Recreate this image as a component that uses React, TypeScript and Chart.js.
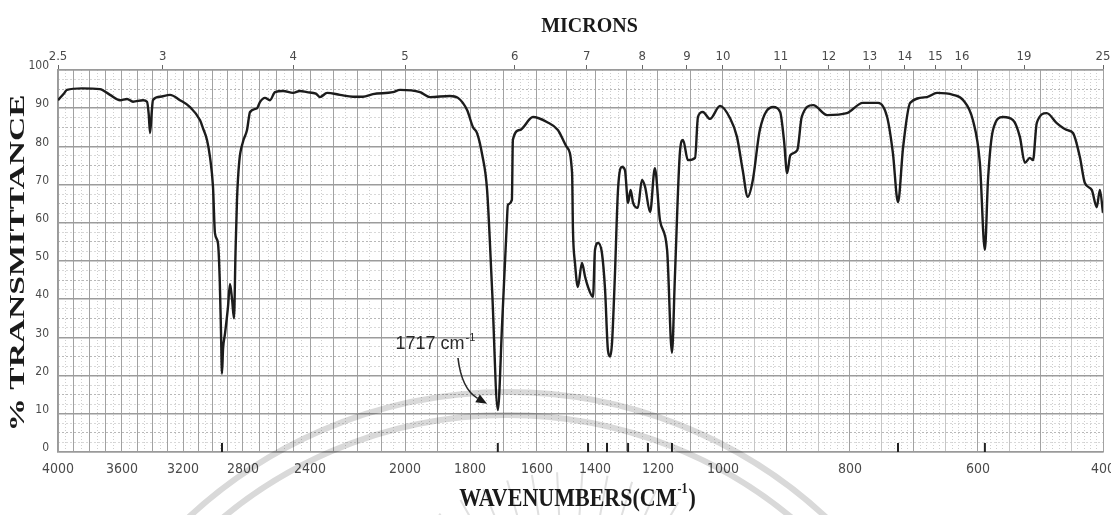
import React, { useEffect, useRef } from 'react';
import { Chart, registerables, LinearScale } from 'chart.js';

Chart.register(...registerables);

// ---- Spectrum data (wavenumber in cm-1, % transmittance) ----
const WAVENUMBERS = [
  4000, 3960, 3944, 3850, 3738, 3675, 3612, 3567, 3528, 3462, 3436, 3425, 3416, 3405, 3397,
  3351, 3285, 3220, 3153, 3087, 3067, 3040, 3020, 3000, 2987, 2967, 2955, 2947, 2940, 2933,
  2920, 2900, 2887, 2873, 2860, 2850, 2840, 2825, 2800, 2776, 2758, 2716, 2699, 2669, 2639,
  2609, 2561, 2501, 2460, 2418, 2375, 2358, 2328, 2274, 2219, 2177, 2135, 2051, 2021, 1954,
  1923, 1862, 1837, 1809, 1791, 1779, 1764, 1749, 1734, 1717, 1704, 1690, 1687, 1675, 1672,
  1651, 1612, 1566, 1528, 1497, 1479, 1476, 1469, 1459, 1445, 1434, 1424, 1407, 1400, 1390,
  1378, 1368, 1359, 1352, 1346, 1337, 1327, 1314, 1305, 1295, 1287, 1279, 1264, 1251, 1241,
  1225, 1210, 1194, 1172, 1157, 1148, 1132, 1123, 1108, 1086, 1077, 1062, 1040, 1009, 989,
  978, 969, 961, 953, 942, 921, 910, 904, 899, 894, 883, 876, 858, 836, 805,
  780, 756, 742, 733, 725, 717, 706, 680, 664, 639, 623, 608, 597, 589, 584,
  576, 560, 544, 533, 525, 517, 512, 506, 490, 474, 458, 448, 437, 429, 418,
  410, 405, 400,
];
const TRANSMITTANCE = [
  92.1, 94.0, 94.8, 95.2, 95.0, 93.5, 92.1, 92.4, 91.7, 92.1, 91.7, 88.5, 83.5, 89.0, 92.1,
  93.0, 93.5, 92.1, 90.3, 86.9, 84.8, 81.7, 77.2, 69.4, 57.3, 54.7, 45.0, 32.0, 20.5, 27.0,
  31.0, 38.0, 44.0, 40.0, 35.0, 52.0, 66.0, 76.0, 81.2, 84.3, 89.0, 90.0, 91.6, 92.7, 92.1,
  94.2, 94.5, 94.0, 94.5, 94.2, 93.8, 92.9, 94.0, 93.5, 93.0, 93.0, 93.7, 94.2, 94.8, 94.2,
  92.9, 93.2, 92.7, 89.5, 85.0, 83.5, 78.0, 68.6, 42.4, 11.0, 33.8, 60.0, 64.7, 66.0, 81.7,
  84.3, 87.7, 86.4, 84.3, 79.8, 73.0, 58.1, 49.5, 43.2, 49.5, 45.8, 43.2, 40.6, 52.9, 54.7,
  52.1, 42.4, 26.7, 25.0, 28.5, 45.8, 68.6, 74.6, 73.8, 65.2, 68.6, 65.2, 63.9, 71.2, 69.4,
  62.8, 74.3, 60.7, 52.9, 26.0, 45.8, 79.0, 81.7, 76.4, 77.0, 87.7, 89.0, 87.2, 90.6, 87.4,
  82.5, 73.8, 66.8, 71.2, 84.3, 90.3, 89.0, 81.7, 73.0, 77.7, 79.0, 87.7, 90.8, 88.2, 88.7,
  91.4, 91.4, 87.7, 78.3, 65.4, 79.8, 91.4, 92.9, 94.0, 93.5, 92.1, 86.9, 75.7, 52.9, 71.2,
  84.3, 87.7, 86.9, 82.5, 75.7, 77.0, 76.4, 86.1, 88.7, 86.1, 84.3, 83.5, 77.2, 70.4, 68.6,
  64.1, 68.6, 62.6,
];

// ---- Axis labels ----
const WAVENUMBER_LABELS = [4000, 3600, 3200, 2800, 2400, 2000, 1800, 1600, 1400, 1200, 1000, 800, 600, 400];
const MICRON_VALUES = [2.5, 3, 4, 5, 6, 7, 8, 9, 10, 11, 12, 13, 14, 15, 16, 19, 25];
const MICRON_LABELS = ['2.5', '3', '4', '5', '6', '7', '8', '9', '10', '11', '12', '13', '14', '15', '16', '19', '25'];
const TRANSMITTANCE_TICKS = [0, 10, 20, 30, 40, 50, 60, 70, 80, 90, 100];
const PEAK_MARKS = [2940, 1717, 1424, 1362, 1295, 1232, 1157, 725, 589];
const ANNOTATION_PEAK = '1717';

// ---- Chart paper: non-uniform wavenumber scale (knot -> fraction of width) ----
const PAPER_KNOTS = [4000, 3600, 3200, 2800, 2400, 2000, 1800, 1600, 1400, 1200, 1000, 800, 600, 400];
const PAPER_FRACS = [0, 0.06124, 0.11962, 0.17703, 0.24115, 0.33206, 0.39426, 0.45837, 0.51388, 0.57416, 0.63636, 0.75789, 0.88038, 1];

function wnToFrac(v: number): number {
  const n = PAPER_KNOTS.length;
  for (let i = 0; i < n - 1; i++) {
    const a = PAPER_KNOTS[i], b = PAPER_KNOTS[i + 1];
    if ((v <= a && v >= b) || (i === 0 && v > a) || (i === n - 2 && v < b)) {
      return PAPER_FRACS[i] + ((a - v) / (a - b)) * (PAPER_FRACS[i + 1] - PAPER_FRACS[i]);
    }
  }
  return 0;
}
function fracToWn(f: number): number {
  const n = PAPER_FRACS.length;
  for (let i = 0; i < n - 1; i++) {
    const a = PAPER_FRACS[i], b = PAPER_FRACS[i + 1];
    if ((f >= a && f <= b) || (i === 0 && f < a) || (i === n - 2 && f > b)) {
      return PAPER_KNOTS[i] + ((f - a) / (b - a)) * (PAPER_KNOTS[i + 1] - PAPER_KNOTS[i]);
    }
  }
  return PAPER_KNOTS[0];
}

class PaperScale extends LinearScale {
  static id = 'paper';
  static defaults = { ticks: { callback: (v: any) => String(v) } };
  getPixelForValue(value: any) {
    if (value === null || value === undefined || isNaN(value)) return NaN;
    return this.getPixelForDecimal(wnToFrac(Number(value)));
  }
  getValueForPixel(pixel: number) {
    return fracToWn(this.getDecimalForPixel(pixel));
  }
}
Chart.register(PaperScale as any);

// grid positions of the chart paper
const X_GRID: number[] = [];
for (let w = 4000; w >= 400; w -= 50) {
  if (w % 100 === 0 || w < 1000) X_GRID.push(w);
}
const X_MINOR: number[] = [];
for (let w = 4000; w > 2000; w -= 50) if (w % 100 !== 0) X_MINOR.push(w);
for (let w = 2000; w > 1000; w -= 25) if (w % 100 !== 0) X_MINOR.push(w);
for (let w = 1000; w > 400; w -= 10) if (w % 50 !== 0) X_MINOR.push(w);
const Y_MINOR: number[] = [];
for (let t = 0; t <= 100; t += 2.5) if (t % 10 !== 0) Y_MINOR.push(t);

const SERIF = '"Liberation Serif", "Times New Roman", serif';
const NARROW = '"Liberation Sans Narrow", "DejaVu Sans Condensed", "Liberation Sans", sans-serif';

const paperPlugin = {
  id: 'paperDecor',
  afterDatasetsDraw(chart: any) {
    const { ctx, chartArea } = chart;
    const xs = chart.scales.x, ys = chart.scales.y;
    ctx.save();
    // peak marks along the bottom edge
    ctx.strokeStyle = '#222';
    ctx.lineWidth = 2;
    PEAK_MARKS.forEach((wn) => {
      const px = xs.getPixelForValue(wn);
      ctx.beginPath();
      ctx.moveTo(px, chartArea.bottom);
      ctx.lineTo(px, chartArea.bottom - 9);
      ctx.stroke();
    });
    // annotation text
    const tx = xs.getPixelForValue(2040);
    const ty = ys.getPixelForValue(27);
    ctx.fillStyle = '#2a2a2a';
    ctx.textBaseline = 'alphabetic';
    ctx.textAlign = 'left';
    ctx.font = '18px "Liberation Sans", Arial, sans-serif';
    const main = ANNOTATION_PEAK + ' cm';
    ctx.fillText(main, tx, ty);
    const mw = ctx.measureText(main).width;
    ctx.font = '11px "Liberation Sans", Arial, sans-serif';
    ctx.fillText('-1', tx + mw + 1, ty - 8);
    // arrow
    const sx = xs.getPixelForValue(1837), sy = ys.getPixelForValue(24.6);
    const cx = xs.getPixelForValue(1826), cy = ys.getPixelForValue(16.5);
    const ex = xs.getPixelForValue(1749), ey = ys.getPixelForValue(12.6);
    let dx = ex - cx, dy = ey - cy;
    const len = Math.hypot(dx, dy);
    dx /= len; dy /= len;
    const head = 11, half = 4.5;
    const bx = ex - dx * head, by = ey - dy * head;
    ctx.strokeStyle = '#2a2a2a';
    ctx.lineWidth = 1.6;
    ctx.beginPath();
    ctx.moveTo(sx, sy);
    ctx.quadraticCurveTo(cx, cy, bx, by);
    ctx.stroke();
    ctx.beginPath();
    ctx.moveTo(ex, ey);
    ctx.lineTo(bx - dy * half, by + dx * half);
    ctx.lineTo(bx + dy * half, by - dx * half);
    ctx.closePath();
    ctx.fillStyle = '#1a1a1a';
    ctx.fill();
    ctx.restore();
  },
  afterDraw(chart: any) {
    const { ctx, chartArea } = chart;
    const midX = (chartArea.left + chartArea.right) / 2;
    const midY = (chartArea.top + chartArea.bottom) / 2;
    ctx.save();
    ctx.fillStyle = '#1a1a1a';
    // top title
    ctx.font = 'bold 20px ' + SERIF;
    ctx.textAlign = 'center';
    ctx.textBaseline = 'middle';
    ctx.fillText('MICRONS', midX + 9, 27);
    // bottom title
    ctx.textAlign = 'left';
    ctx.textBaseline = 'alphabetic';
    const mainT = 'WAVENUMBERS(CM';
    ctx.font = 'bold 22px ' + SERIF;
    const w1 = ctx.measureText(mainT).width;
    const w3 = ctx.measureText(')').width;
    ctx.font = 'bold 12px ' + SERIF;
    const w2 = ctx.measureText('-1').width;
    const startX = midX - 3 - (w1 + w2 + w3 + 2) / 2;
    ctx.save();
    ctx.translate(0, 506);
    ctx.scale(1, 1.15);
    ctx.font = 'bold 22px ' + SERIF;
    ctx.fillText(mainT, startX, 0);
    ctx.font = 'bold 12px ' + SERIF;
    ctx.fillText('-1', startX + w1 + 1, -11);
    ctx.font = 'bold 22px ' + SERIF;
    ctx.fillText(')', startX + w1 + w2 + 2, 0);
    ctx.restore();
    // left title (rotated, stretched along the text)
    ctx.save();
    ctx.translate(18, midY + 2);
    ctx.rotate(-Math.PI / 2);
    ctx.font = 'bold 22px ' + SERIF;
    ctx.textAlign = 'center';
    ctx.textBaseline = 'middle';
    const yt = '% TRANSMITTANCE';
    const yw = ctx.measureText(yt).width;
    ctx.scale(337 / yw, 1);
    ctx.fillText(yt, 0, 0);
    ctx.restore();
    // faint watermark arcs and rays
    ctx.globalCompositeOperation = 'multiply';
    ctx.strokeStyle = '#d9d9d9';
    ctx.lineWidth = 6;
    const wx = chartArea.left + (chartArea.right - chartArea.left) * 0.43;
    ctx.beginPath();
    ctx.arc(wx, 860, 468, Math.PI * 1.12, Math.PI * 1.88);
    ctx.stroke();
    ctx.beginPath();
    ctx.arc(wx, 860, 445, Math.PI * 1.12, Math.PI * 1.88);
    ctx.stroke();
    ctx.lineWidth = 2;
    ctx.strokeStyle = '#e0e0e0';
    const rcx = wx + 60, rcy = 690;
    for (let i = 0; i < 12; i++) {
      const ang = Math.PI * (1.3 + i * 0.037);
      const r1 = 170, r2 = 218;
      ctx.beginPath();
      ctx.moveTo(rcx + Math.cos(ang) * r1, rcy + Math.sin(ang) * r1);
      ctx.lineTo(rcx + Math.cos(ang) * r2, rcy + Math.sin(ang) * r2);
      ctx.stroke();
    }
    ctx.restore();
  },
};

export default function App() {
  const canvasRef = useRef<HTMLCanvasElement>(null);

  useEffect(() => {
    const canvas = canvasRef.current;
    if (!canvas) return;
    const points = WAVENUMBERS.map((w, i) => ({ x: w, y: TRANSMITTANCE[i] }));
    const chart = new Chart(canvas, {
      type: 'line',
      data: {
        datasets: [
          {
            label: 'Transmittance',
            data: points,
            borderColor: '#1c1c1c',
            borderWidth: 2.4,
            pointRadius: 0,
            fill: false,
            cubicInterpolationMode: 'monotone',
            xAxisID: 'x',
            yAxisID: 'y',
          },
        ],
      },
      options: {
        responsive: false,
        animation: false,
        devicePixelRatio: 1,
        layout: { padding: { left: 0, right: 8, top: 0, bottom: 0 } },
        plugins: { legend: { display: false }, tooltip: { enabled: false }, title: { display: false } },
        scales: {
          x: {
            type: 'paper' as any,
            position: 'bottom',
            min: 400,
            max: 4000,
            afterBuildTicks: (s: any) => { s.ticks = X_GRID.map((v) => ({ value: v })); },
            afterFit: (s: any) => { s.height = 63; s.paddingLeft = 0; s.paddingRight = 0; },
            ticks: {
              autoSkip: false,
              maxRotation: 0,
              minRotation: 0,
              padding: 9,
              color: '#4a4a4a',
              font: { family: NARROW, size: 14 },
              callback: (v: any) => (WAVENUMBER_LABELS.includes(Number(v)) ? String(v) : ''),
            },
            grid: {
              drawTicks: false,
              color: (c: any) => {
                const v = c.tick ? c.tick.value : 0;
                return v % 100 === 0 ? '#a2a2a2' : '#c6c6c6';
              },
              lineWidth: 1,
            },
            border: { display: true, color: '#9a9a9a', width: 1.5 },
          },
          xMinor: {
            type: 'paper' as any,
            position: 'bottom',
            min: 400,
            max: 4000,
            afterBuildTicks: (s: any) => { s.ticks = X_MINOR.map((v) => ({ value: v })); },
            afterFit: (s: any) => { s.height = 0; s.paddingLeft = 0; s.paddingRight = 0; },
            ticks: { display: false, autoSkip: false, maxRotation: 0 },
            grid: { drawTicks: false, color: '#cfcfcf', lineWidth: 1, z: -2 },
            border: { display: false, dash: [1, 2] },
          },
          xTop: {
            type: 'paper' as any,
            position: 'top',
            min: 400,
            max: 4000,
            afterBuildTicks: (s: any) => { s.ticks = MICRON_VALUES.map((m) => ({ value: 10000 / m })); },
            afterFit: (s: any) => { s.height = 70; s.paddingLeft = 0; s.paddingRight = 0; },
            ticks: {
              autoSkip: false,
              maxRotation: 0,
              minRotation: 0,
              padding: 1,
              color: '#4a4a4a',
              font: { family: NARROW, size: 13 },
              callback: (_v: any, i: number) => MICRON_LABELS[i],
            },
            grid: { drawOnChartArea: false, drawTicks: true, tickLength: 5, color: '#666', lineWidth: 1 },
            border: { display: true, color: '#9a9a9a', width: 1.5 },
          },
          y: {
            type: 'linear',
            position: 'left',
            min: 0,
            max: 100,
            afterBuildTicks: (s: any) => { s.ticks = TRANSMITTANCE_TICKS.map((v) => ({ value: v })); },
            afterFit: (s: any) => { s.width = 58; s.paddingTop = 0; s.paddingBottom = 0; },
            ticks: {
              padding: 9,
              labelOffset: -4,
              color: '#4a4a4a',
              font: { family: NARROW, size: 12 },
              callback: (v: any) => String(v),
            },
            grid: { drawTicks: false, color: '#9c9c9c', lineWidth: 1.5 },
            border: { display: true, color: '#9a9a9a', width: 1.5 },
          },
          yMinor: {
            type: 'linear',
            position: 'left',
            min: 0,
            max: 100,
            afterBuildTicks: (s: any) => { s.ticks = Y_MINOR.map((v) => ({ value: v })); },
            afterFit: (s: any) => { s.width = 0; s.paddingTop = 0; s.paddingBottom = 0; },
            ticks: { display: false },
            grid: {
              drawTicks: false,
              z: -2,
              color: (c: any) => {
                const v = c.tick ? c.tick.value : 0;
                return v % 10 === 5 ? '#b8b8b8' : '#d8d8d8';
              },
              lineWidth: 1,
            },
            border: { display: false, dash: [2, 2] },
          },
        },
      } as any,
      plugins: [paperPlugin],
    });
    return () => chart.destroy();
  }, []);

  return (
    <div style={{ position: 'fixed', left: 0, top: 0, width: 1111, height: 515, background: '#fff' }}>
      <canvas ref={canvasRef} width={1111} height={515} style={{ display: 'block', width: 1111, height: 515 }} />
    </div>
  );
}
